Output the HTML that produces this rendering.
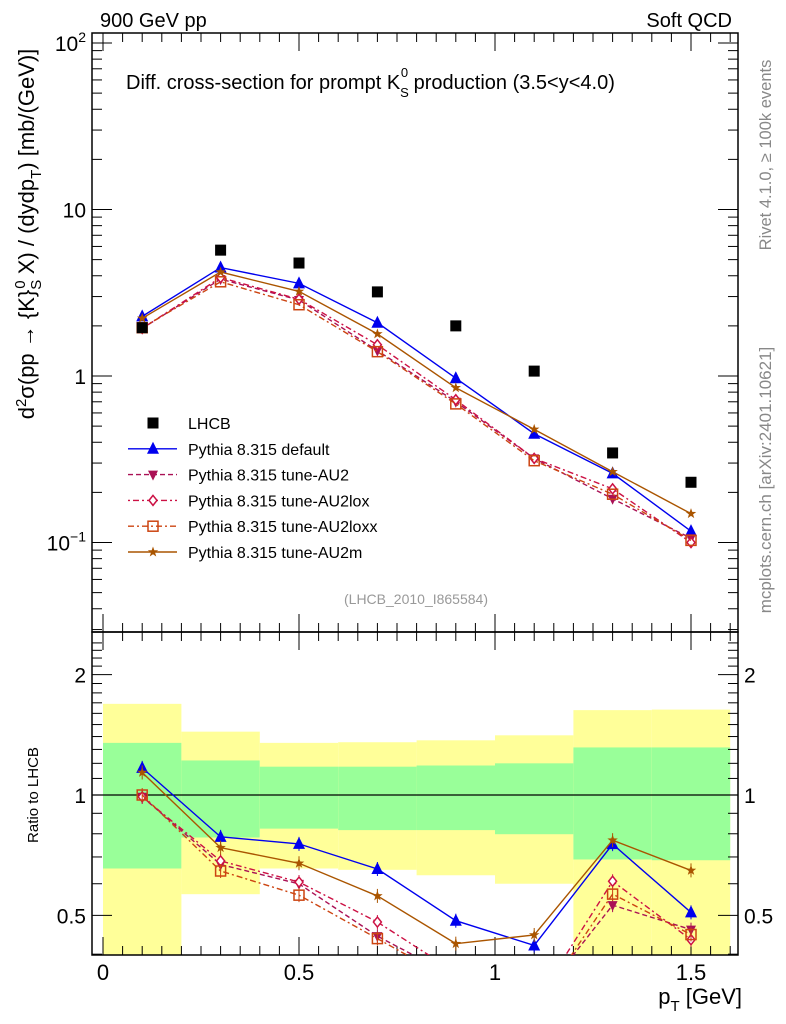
<!DOCTYPE html>
<html><head><meta charset="utf-8"><style>
body{margin:0;background:#fff}
svg{display:block;font-family:"Liberation Sans",sans-serif}
</style></head><body>
<svg id="c" width="786" height="1024" viewBox="0 0 786 1024"></svg>
<script>
const pt = [0.1,0.3,0.5,0.7,0.9,1.1,1.3,1.5];
const lhcb = [1.95,5.7,4.77,3.2,2.0,1.07,0.345,0.23];
const pyDefault = [2.28,4.48,3.6,2.09,0.97,0.45,0.26,0.117];
const pyAU2 = [1.93,3.82,2.86,1.42,0.70,0.32,0.183,0.106];
const pyAU2lox = [1.93,3.9,2.89,1.54,0.72,0.32,0.21,0.10];
const pyAU2loxx = [1.95,3.68,2.68,1.40,0.68,0.31,0.195,0.103];
const pyAU2m = [2.22,4.21,3.22,1.79,0.85,0.478,0.266,0.149];
const binEdges = [0,0.2,0.4,0.6,0.8,1.0,1.2,1.4,1.6];
const greenHi = [1.35,1.22,1.177,1.177,1.185,1.2,1.315,1.315];
const greenLo = [0.655,0.783,0.824,0.817,0.817,0.798,0.69,0.687];
const yellowHi = [1.69,1.44,1.35,1.355,1.37,1.41,1.63,1.635];
const yellowLo = [0.3,0.565,0.655,0.65,0.63,0.6,0.3,0.3];
const xTicks = [0,0.5,1,1.5];
const xTickLabels = ["0","0.5","1","1.5"];

const NS="http://www.w3.org/2000/svg";
const svg=document.getElementById('c');
function el(tag,attrs,parent){const e=document.createElementNS(NS,tag);for(const k in attrs)e.setAttribute(k,attrs[k]);(parent||svg).appendChild(e);return e;}
const L=92,R=738,T1=33,B1=632,T2=632,B2=955;
const X=v=>103+v*392;
const Y1=v=>376-Math.log10(v)*166.5;
const Y2=v=>795-Math.log10(v)*400;

const bands=el('g',{});


for(let i=0;i<8;i++){
  const x0=X(binEdges[i]),x1=X(binEdges[i+1]);
  const yt=Y2(yellowHi[i]),yb=Math.min(B2,Y2(yellowLo[i]));
  const r=el('rect',{x:x0,y:yt,width:x1-x0,height:yb-yt,fill:'#ffff99'},bands);
  
  
  const gt=Y2(greenHi[i]),gb=Y2(greenLo[i]);
  const g=el('rect',{x:x0,y:gt,width:x1-x0,height:gb-gt,fill:'#99ff99'},bands);
  
  
}
el('line',{x1:L,x2:R,y1:Y2(1),y2:Y2(1),stroke:'#000','stroke-width':1.2});

el('rect',{x:L,y:T1,width:R-L,height:B1-T1,fill:'none',stroke:'#000','stroke-width':1.5});
el('rect',{x:L,y:T2,width:R-L,height:B2-T2,fill:'none',stroke:'#000','stroke-width':1.5});

for(let v=0;v<=1.6001;v+=0.05){
  const major=Math.abs(v*2-Math.round(v*2))<1e-6;
  const len=major?18:9;
  [T1,T2].forEach(t=>el('line',{x1:X(v),x2:X(v),y1:t,y2:t+len,stroke:'#000'}));
  [B1,B2].forEach(b=>el('line',{x1:X(v),x2:X(v),y1:b,y2:b-len,stroke:'#000'}));
}
xTicks.forEach((v,i)=>{const t=el('text',{x:X(v),y:980,'font-size':22,'text-anchor':'middle'});t.textContent=xTickLabels[i];
});

for(let d=-2;d<=2;d++){for(let m=1;m<=9;m++){const v=m*Math.pow(10,d);const y=Y1(v);if(y<T1||y>B1)continue;
  const len=m==1?20:10;el('line',{x1:L,x2:L+len,y1:y,y2:y,stroke:'#000'});el('line',{x1:R,x2:R-len,y1:y,y2:y,stroke:'#000'});}}
function lab(x,y,txt,size,anchor,name){const t=el('text',{x:x,y:y,'font-size':size,'text-anchor':anchor||'start'});t.innerHTML=txt;
return t;}
lab(86,Y1(100)+8,'10<tspan dy="-9" font-size="14">2</tspan>',21,'end','y-tick-100');
lab(86,Y1(10)+8,'10',21,'end','y-tick-10');
lab(86,Y1(1)+8,'1',21,'end','y-tick-1');
lab(86,Y1(0.1)+8,'10<tspan dy="-9" font-size="14">−1</tspan>',21,'end','y-tick-0.1');
for(let v=0.4;v<=2.5;v+=0.1){const y=Y2(v);if(y<T2||y>B2)continue;const major=[0.5,1,2].some(m=>Math.abs(m-v)<1e-6);const len=major?20:10;
 el('line',{x1:L,x2:L+len,y1:y,y2:y,stroke:'#000'});el('line',{x1:R,x2:R-len,y1:y,y2:y,stroke:'#000'});}
lab(86,Y2(2)+8,'2',21,'end','ratio-tick-2');lab(86,Y2(1)+8,'1',21,'end','ratio-tick-1');lab(86,Y2(0.5)+8,'0.5',21,'end','ratio-tick-0.5');
lab(744,Y2(2)+8,'2',21,'start','ratio-tick-right-2');lab(744,Y2(1)+8,'1',21,'start','ratio-tick-right-1');lab(744,Y2(0.5)+8,'0.5',21,'start','ratio-tick-right-0.5');

lab(100,27,'900 GeV pp',20,'start','energy-label');
lab(732,27,'Soft QCD',20,'end','process-label');
lab(126,89,'Diff. cross-section for prompt K<tspan dy="8" font-size="13">S</tspan><tspan dx="-8" dy="-20" font-size="13">0</tspan><tspan dy="12"> production (3.5&lt;y&lt;4.0)</tspan>',20,'start','plot-title');
lab(416,604,'(LHCB_2010_I865584)',14,'middle','analysis-id').setAttribute('fill','#999');
lab(742,1004,'p<tspan dy="7" font-size="15">T</tspan><tspan dy="-7"> [GeV]</tspan>',22,'end','x-axis-title');
let yt=lab(0,0,'d<tspan dy="-8" font-size="15">2</tspan><tspan dy="8">σ(pp → {K}</tspan><tspan dy="7" font-size="15">S</tspan><tspan dy="-16" dx="-9" font-size="15">0</tspan><tspan dy="9"> X) / (dydp</tspan><tspan dy="7" font-size="15">T</tspan><tspan dy="-7">) [mb/(GeV)]</tspan>',22,'middle','y-axis-title');
yt.setAttribute('transform','translate(34,234) rotate(-90)');
let rt=lab(0,0,'Ratio to LHCB',15,'middle','ratio-axis-title');rt.setAttribute('transform','translate(38,795) rotate(-90)');
let r1=lab(0,0,'Rivet 4.1.0, ≥ 100k events',16.5,'middle','rivet-label');r1.setAttribute('transform','translate(771,155) rotate(-90)');r1.setAttribute('fill','#888');
let r2=lab(0,0,'mcplots.cern.ch [arXiv:2401.10621]',17,'middle','mcplots-label');r2.setAttribute('transform','translate(771,480) rotate(-90)');r2.setAttribute('fill','#888');

function marker(g,type,x,y,col){
 if(type=='sq'){el('rect',{x:x-5.5,y:y-5.5,width:11,height:11,fill:'#000'},g);}
 else if(type=='tri')el('polygon',{points:`${x},${y-7} ${x-6},${y+5} ${x+6},${y+5}`,fill:col},g);
 else if(type=='dtri')el('polygon',{points:`${x},${y+6} ${x-5},${y-4} ${x+5},${y-4}`,fill:col},g);
 else if(type=='dia')el('polygon',{points:`${x},${y-5} ${x-4},${y} ${x},${y+5} ${x+4},${y}`,fill:'#fff',stroke:col,'stroke-width':1.5},g);
 else if(type=='osq')el('rect',{x:x-5,y:y-5,width:10,height:10,fill:'none',stroke:col,'stroke-width':1.5},g);
 else if(type=='star'){let p=[];for(let k=0;k<10;k++){const r=k%2?2.2:5.5,a=-Math.PI/2+k*Math.PI/5;p.push((x+r*Math.cos(a))+','+(y+r*Math.sin(a)));}el('polygon',{points:p.join(' '),fill:col},g);}
}
const series=[
 {name:'pythia-default',vals:pyDefault,col:'#0000ee',dash:'',m:'tri'},
 {name:'pythia-au2',vals:pyAU2,col:'#aa1155',dash:'5,3',m:'dtri'},
 {name:'pythia-au2lox',vals:pyAU2lox,col:'#cc1144',dash:'2,3,6,3',m:'dia'},
 {name:'pythia-au2loxx',vals:pyAU2loxx,col:'#cc4411',dash:'6,3,2,3',m:'osq'},
 {name:'pythia-au2m',vals:pyAU2m,col:'#aa5500',dash:'',m:'star'}];
const clipDefs=el('defs',{});
const cp1=el('clipPath',{id:'cp1'},clipDefs);el('rect',{x:L,y:T1,width:R-L,height:B1-T1},cp1);
const cp2=el('clipPath',{id:'cp2'},clipDefs);el('rect',{x:L,y:T2,width:R-L,height:B2-T2},cp2);
series.forEach(s=>{
 const g=el('g',{'clip-path':'url(#cp1)'});
 
 
 el('polyline',{points:pt.map((x,i)=>X(x)+','+Y1(s.vals[i])).join(' '),fill:'none',stroke:s.col,'stroke-width':1.4,'stroke-dasharray':s.dash},g);
 pt.forEach((x,i)=>marker(g,s.m,X(x),Y1(s.vals[i]),s.col));
 const g2=el('g',{'clip-path':'url(#cp2)'});
 
 
 el('polyline',{points:pt.map((x,i)=>X(x)+','+Y2(s.vals[i]/lhcb[i])).join(' '),fill:'none',stroke:s.col,'stroke-width':1.4,'stroke-dasharray':s.dash},g2);
 pt.forEach((x,i)=>{const y=Y2(s.vals[i]/lhcb[i]);el('line',{x1:X(x),x2:X(x),y1:y-7,y2:y+7,stroke:s.col},g2);marker(g2,s.m,X(x),y,s.col);});
});
const gd=el('g',{});


pt.forEach((x,i)=>marker(gd,'sq',X(x),Y1(lhcb[i])));

const leg=el('g',{});


const legItems=[['LHCB',null],['Pythia 8.315 default',series[0]],['Pythia 8.315 tune-AU2',series[1]],['Pythia 8.315 tune-AU2lox',series[2]],['Pythia 8.315 tune-AU2loxx',series[3]],['Pythia 8.315 tune-AU2m',series[4]]];
legItems.forEach((it,k)=>{const y=423+k*25.8;
 if(!it[1])marker(leg,'sq',153,y);
 else{el('line',{x1:128,x2:177,y1:y,y2:y,stroke:it[1].col,'stroke-width':1.4,'stroke-dasharray':it[1].dash},leg);marker(leg,it[1].m,153,y,it[1].col);}
 const t=el('text',{x:188,y:y+6,'font-size':16},leg);t.textContent=it[0];
 });
</script>
</body></html>
